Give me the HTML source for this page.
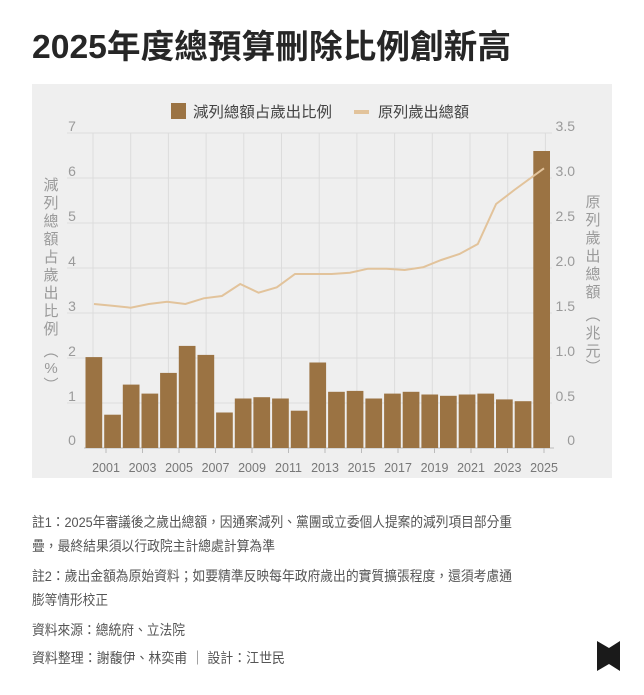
<!DOCTYPE html>
<html><head><meta charset="utf-8"><style>
html,body{margin:0;padding:0;background:#fff;}
svg{display:block;font-family:"Liberation Sans","Noto Sans CJK TC",sans-serif;}
</style></head><body>
<svg width="644" height="695" viewBox="0 0 644 695" xmlns="http://www.w3.org/2000/svg">
<text x="32" y="58" font-size="33" font-weight="bold" fill="#262626" textLength="479" lengthAdjust="spacingAndGlyphs">2025年度總預算刪除比例創新高</text>
<rect x="32" y="84" width="580" height="394" fill="#efefef"/>
<g stroke="#dcdcdc" stroke-width="1">
<line x1="67" y1="133" x2="552" y2="133"/><line x1="67" y1="178" x2="552" y2="178"/><line x1="67" y1="223" x2="552" y2="223"/><line x1="67" y1="268" x2="552" y2="268"/><line x1="67" y1="313" x2="552" y2="313"/><line x1="67" y1="358" x2="552" y2="358"/><line x1="67" y1="403" x2="552" y2="403"/>
<line x1="93" y1="133" x2="93" y2="448"/><line x1="130.7" y1="133" x2="130.7" y2="448"/><line x1="168.4" y1="133" x2="168.4" y2="448"/><line x1="206.1" y1="133" x2="206.1" y2="448"/><line x1="243.8" y1="133" x2="243.8" y2="448"/><line x1="281.5" y1="133" x2="281.5" y2="448"/><line x1="319.2" y1="133" x2="319.2" y2="448"/><line x1="356.9" y1="133" x2="356.9" y2="448"/><line x1="394.6" y1="133" x2="394.6" y2="448"/><line x1="432.3" y1="133" x2="432.3" y2="448"/><line x1="470" y1="133" x2="470" y2="448"/><line x1="507.7" y1="133" x2="507.7" y2="448"/><line x1="545.4" y1="133" x2="545.4" y2="448"/>
</g>
<line x1="84" y1="448" x2="554" y2="448" stroke="#bbb"/>
<g stroke="#bbb"><line x1="106" y1="448" x2="106" y2="453"/><line x1="142.5" y1="448" x2="142.5" y2="453"/><line x1="179" y1="448" x2="179" y2="453"/><line x1="215.5" y1="448" x2="215.5" y2="453"/><line x1="252" y1="448" x2="252" y2="453"/><line x1="288.5" y1="448" x2="288.5" y2="453"/><line x1="325" y1="448" x2="325" y2="453"/><line x1="361.5" y1="448" x2="361.5" y2="453"/><line x1="398" y1="448" x2="398" y2="453"/><line x1="434.5" y1="448" x2="434.5" y2="453"/><line x1="471" y1="448" x2="471" y2="453"/><line x1="507.5" y1="448" x2="507.5" y2="453"/><line x1="544" y1="448" x2="544" y2="453"/></g>
<g fill="#9b7343">
<rect x="85.5" y="357.1" width="16.7" height="90.9"/>
<rect x="104.2" y="414.7" width="16.7" height="33.3"/>
<rect x="122.8" y="384.6" width="16.7" height="63.4"/>
<rect x="141.5" y="393.6" width="16.7" height="54.4"/>
<rect x="160.1" y="372.9" width="16.7" height="75.1"/>
<rect x="178.8" y="345.9" width="16.7" height="102.1"/>
<rect x="197.5" y="354.9" width="16.7" height="93.1"/>
<rect x="216.1" y="412.5" width="16.7" height="35.5"/>
<rect x="234.8" y="398.5" width="16.7" height="49.5"/>
<rect x="253.4" y="397.2" width="16.7" height="50.8"/>
<rect x="272.1" y="398.5" width="16.7" height="49.5"/>
<rect x="290.8" y="410.7" width="16.7" height="37.3"/>
<rect x="309.4" y="362.5" width="16.7" height="85.5"/>
<rect x="328.1" y="391.8" width="16.7" height="56.2"/>
<rect x="346.7" y="390.9" width="16.7" height="57.1"/>
<rect x="365.4" y="398.5" width="16.7" height="49.5"/>
<rect x="384.1" y="393.6" width="16.7" height="54.4"/>
<rect x="402.7" y="391.8" width="16.7" height="56.2"/>
<rect x="421.4" y="394.5" width="16.7" height="53.5"/>
<rect x="440" y="395.8" width="16.7" height="52.2"/>
<rect x="458.7" y="394.5" width="16.7" height="53.5"/>
<rect x="477.4" y="393.6" width="16.7" height="54.4"/>
<rect x="496" y="399.4" width="16.7" height="48.6"/>
<rect x="514.7" y="401.2" width="16.7" height="46.8"/>
<rect x="533.3" y="151" width="16.7" height="297"/>
</g>
<polyline fill="none" stroke="#e2c39b" stroke-width="2" points="94,304 112.3,305.7 130.6,307.7 148.8,304 167.1,301.7 185.4,304 203.7,298.3 221.9,296 240.2,284 258.5,292.7 276.8,287.3 295,274 313.3,274 331.6,274 349.9,272.7 368.1,268.7 386.4,268.7 404.7,270 423,267.3 441.2,260 459.5,254 477.8,244 496.1,204 514.3,190 544,168.3"/>
<g font-size="14" fill="#9a9a9a" text-anchor="middle">
<text x="72" y="131">7</text><text x="72" y="176">6</text><text x="72" y="221">5</text><text x="72" y="266">4</text><text x="72" y="311">3</text><text x="72" y="356">2</text><text x="72" y="401">1</text><text x="72" y="445">0</text>
</g>
<g font-size="14" fill="#9a9a9a" text-anchor="end">
<text x="575" y="131">3.5</text><text x="575" y="176">3.0</text><text x="575" y="221">2.5</text><text x="575" y="266">2.0</text><text x="575" y="311">1.5</text><text x="575" y="356">1.0</text><text x="575" y="401">0.5</text><text x="575" y="445">0</text>
</g>
<g font-size="12.5" fill="#777" text-anchor="middle">
<text x="106" y="472">2001</text><text x="142.5" y="472">2003</text><text x="179" y="472">2005</text><text x="215.5" y="472">2007</text><text x="252" y="472">2009</text><text x="288.5" y="472">2011</text><text x="325" y="472">2013</text><text x="361.5" y="472">2015</text><text x="398" y="472">2017</text><text x="434.5" y="472">2019</text><text x="471" y="472">2021</text><text x="507.5" y="472">2023</text><text x="544" y="472">2025</text>
</g>
<g font-size="15" fill="#9a9a9a" text-anchor="middle">
<text x="51" y="190">減</text><text x="51" y="208">列</text><text x="51" y="226">總</text><text x="51" y="244">額</text><text x="51" y="262">占</text><text x="51" y="280">歲</text><text x="51" y="298">出</text><text x="51" y="316">比</text><text x="51" y="334">例</text><text x="51" y="356">︵</text><text x="51" y="373">%</text><text x="51" y="390">︶</text>
<text x="593" y="207">原</text><text x="593" y="225">列</text><text x="593" y="243">歲</text><text x="593" y="261">出</text><text x="593" y="279">總</text><text x="593" y="297">額</text><text x="593" y="320">︵</text><text x="593" y="338">兆</text><text x="593" y="356">元</text><text x="593" y="372">︶</text>
</g>
<rect x="171" y="103" width="15" height="16" fill="#9b7343"/>
<text x="193" y="117" font-size="15" fill="#444" textLength="139" lengthAdjust="spacingAndGlyphs">減列總額占歲出比例</text>
<rect x="354" y="110" width="15" height="4" fill="#e2c39b"/>
<text x="378" y="117" font-size="15" fill="#444" textLength="91" lengthAdjust="spacingAndGlyphs">原列歲出總額</text>
<g font-size="14" fill="#555">
<text x="32" y="527" textLength="480" lengthAdjust="spacingAndGlyphs">註1：2025年審議後之歲出總額，因通案減列、黨團或立委個人提案的減列項目部分重</text>
<text x="32" y="551" textLength="243" lengthAdjust="spacingAndGlyphs">疊，最終結果須以行政院主計總處計算為準</text>
<text x="32" y="581" textLength="480" lengthAdjust="spacingAndGlyphs">註2：歲出金額為原始資料；如要精準反映每年政府歲出的實質擴張程度，還須考慮通</text>
<text x="32" y="605" textLength="76" lengthAdjust="spacingAndGlyphs">膨等情形校正</text>
<text x="32" y="635" textLength="153" lengthAdjust="spacingAndGlyphs">資料來源：總統府、立法院</text>
<text x="32" y="663" textLength="253" lengthAdjust="spacingAndGlyphs">資料整理：謝馥伊、林奕甫 ｜ 設計：江世民</text>
</g>
<polygon points="597,641 609,648 620,641 620,671 609,664 597,671" fill="#1a1a1a"/>
</svg>
</body></html>
